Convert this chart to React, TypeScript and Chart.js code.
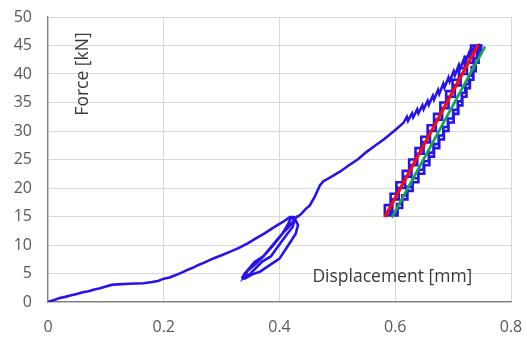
import React, { useEffect, useRef } from "react";
import { Chart, registerables } from "chart.js";

Chart.register(...registerables);

// Main loading curve (displacement mm, force kN)
const mainDisp = [
  0, 0.005, 0.012, 0.02, 0.03, 0.04, 0.05, 0.06, 0.07, 0.08, 0.09, 0.1, 0.11, 0.12, 0.14, 0.165, 0.18, 0.19,
  0.2, 0.21, 0.22, 0.23, 0.24, 0.25, 0.26, 0.27, 0.28, 0.29, 0.3, 0.314, 0.33, 0.345, 0.36, 0.375, 0.39,
  0.405, 0.418,
];
const mainForce = [
  0, 0.2, 0.4, 0.7, 0.9, 1.2, 1.4, 1.7, 1.9, 2.2, 2.4, 2.7, 3.0, 3.1, 3.2, 3.3, 3.5, 3.7,
  4.1, 4.3, 4.7, 5.1, 5.6, 6.0, 6.5, 6.9, 7.4, 7.8, 8.2, 8.8, 9.5, 10.3, 11.2, 12.1, 13.1,
  14.0, 14.9,
];
// Small unload/reload loop near 15 kN
const loopDisp = [
  0.425, 0.432, 0.428, 0.418, 0.4, 0.385, 0.366, 0.352, 0.34, 0.336, 0.34, 0.357, 0.372, 0.385, 0.395, 0.405,
  0.414, 0.42, 0.426, 0.423, 0.41, 0.397, 0.385, 0.37, 0.35, 0.338, 0.345, 0.358, 0.372, 0.388, 0.405, 0.418,
  0.43,
];
const loopForce = [
  14.9, 13.5, 12.0, 10.4, 7.6, 6.6, 5.3, 4.8, 4.1, 4.3, 5.0, 7.0, 8.0, 9.6, 10.8, 12.0,
  13.5, 14.8, 14.5, 13.2, 11.5, 9.7, 8.0, 7.1, 5.0, 4.2, 5.5, 6.6, 8.0, 9.8, 12.0, 13.4,
  15.0,
];
// Continued loading up to 45 kN
const upperDisp = [
  0.432, 0.438, 0.445, 0.452, 0.46, 0.465, 0.47, 0.476, 0.49, 0.505, 0.52, 0.535, 0.55, 0.565, 0.58, 0.597,
  0.614, 0.62, 0.622, 0.629, 0.631, 0.638, 0.64, 0.647, 0.649, 0.656, 0.658, 0.665, 0.667, 0.674, 0.676,
  0.683, 0.685, 0.692, 0.694, 0.701, 0.703, 0.71, 0.712, 0.719, 0.721, 0.728, 0.73, 0.737, 0.745,
];
const upperForce = [
  15.0, 15.5, 16.3, 16.9, 18.3, 19.4, 20.5, 21.2, 22.0, 22.9, 24.0, 25.0, 26.3, 27.4, 28.5, 29.9,
  31.4, 32.5, 31.8, 33.1, 32.4, 33.8, 33.1, 34.5, 33.8, 35.3, 34.6, 36.2, 35.5, 37.2, 36.5,
  38.3, 37.6, 39.4, 38.7, 40.5, 39.8, 41.6, 40.9, 42.7, 42.0, 43.8, 43.1, 44.8, 45.1,
];
// Cyclic loading between 15 and 45 kN: unload 1, reload 1, unload 2, reload 2
const u1Disp = [
  0.748, 0.744, 0.739, 0.735, 0.729, 0.723, 0.716, 0.709, 0.701, 0.692, 0.684, 0.676, 0.667, 0.659, 0.65,
  0.64, 0.63, 0.621, 0.612, 0.604, 0.596,
];
const u1Force = [
  45, 43.5, 42, 40.5, 39, 37.5, 36, 34.5, 33, 31.5, 30, 28.5, 27, 25.5, 24,
  22.5, 21, 19.5, 18, 16.5, 15.2,
];
const r1Disp = [
  0.582, 0.592, 0.602, 0.613, 0.624, 0.635, 0.645, 0.656, 0.667, 0.678, 0.688, 0.699, 0.71, 0.72, 0.731, 0.742,
];
const r1Force = [15.2, 17, 19, 21, 23, 25, 27, 29, 31, 33, 35, 37, 39, 41, 43, 45];
const u2Disp = [
  0.743, 0.741, 0.736, 0.732, 0.727, 0.721, 0.715, 0.708, 0.7, 0.691, 0.683, 0.675, 0.666, 0.658, 0.649,
  0.64, 0.63, 0.62, 0.612, 0.603, 0.594, 0.591,
];
const u2Force = [
  45, 44.2, 42.7, 41.2, 39.7, 38.2, 36.7, 35.2, 33.7, 32.2, 30.7, 29.2, 27.7, 26.2, 24.7,
  23.2, 21.7, 20.2, 18.7, 17.2, 15.7, 15.2,
];
const r2Disp = [
  0.591, 0.595, 0.606, 0.617, 0.628, 0.638, 0.649, 0.66, 0.67, 0.681, 0.692, 0.703, 0.713, 0.724, 0.735, 0.746,
  0.751,
];
const r2Force = [15.2, 16, 18, 20, 22, 24, 26, 28, 30, 32, 34, 36, 38, 40, 42, 44, 45];
// Fitted lines
const redDisp = [0.582, 0.743];
const redForce = [14.9, 45.1];
const greenDisp = [0.594, 0.755];
const greenForce = [14.8, 44.8];

const xTicks = [0, 0.2, 0.4, 0.6, 0.8];
const xTitle = "Displacement [mm]";
const yTitle = "Force [kN]";

const toPts = (xs: number[], ys: number[]) => xs.map((x, i) => ({ x, y: ys[i] }));

// staircase: unloading drops in force first, then moves left; loading rises first, then moves right
const stairs = (xs: number[], ys: number[]) => {
  const out: { x: number; y: number }[] = [];
  for (let i = 0; i < xs.length; i++) {
    if (i > 0) out.push({ x: xs[i - 1], y: ys[i] });
    out.push({ x: xs[i], y: ys[i] });
  }
  return out;
};

export default function App() {
  const ref = useRef<HTMLCanvasElement>(null);
  useEffect(() => {
    document.body.style.margin = "0";
    const canvas = ref.current!;
    const blue = [
      ...toPts(mainDisp, mainForce),
      ...toPts(loopDisp, loopForce),
      ...toPts(upperDisp, upperForce),
      ...stairs(u1Disp, u1Force),
      ...stairs(r1Disp, r1Force),
      ...stairs(u2Disp, u2Force),
      ...stairs(r2Disp, r2Force),
    ];
    const labelPlugin = {
      id: "labels",
      afterDatasetsDraw(chart: any) {
        const { ctx, scales } = chart;
        ctx.save();
        ctx.fillStyle = "#3a3a3a";
        ctx.font = '17.5px "Open Sans"';
        ctx.textAlign = "center";
        ctx.textBaseline = "middle";
        ctx.fillText(xTitle, scales.x.getPixelForValue(0.595), scales.y.getPixelForValue(4.4));
        ctx.translate(scales.x.getPixelForValue(0.061), scales.y.getPixelForValue(40));
        ctx.rotate(-Math.PI / 2);
        ctx.fillText(yTitle, 0, 0);
        ctx.restore();
      },
    };
    const chart = new Chart(canvas, {
      type: "scatter",
      data: {
        datasets: [
          {
            data: blue,
            showLine: true,
            borderColor: "rgb(38, 20, 232)",
            borderWidth: 2.6,
            pointRadius: 0,
            tension: 0,
            order: 3,
          },
          {
            data: toPts(greenDisp, greenForce),
            showLine: true,
            borderColor: "rgb(20, 165, 80)",
            borderWidth: 2.8,
            pointRadius: 0,
            order: 2,
          },
          {
            data: toPts(redDisp, redForce),
            showLine: true,
            borderColor: "rgb(250, 10, 10)",
            borderWidth: 3.2,
            pointRadius: 0,
            order: 1,
          },
        ],
      },
      options: {
        animation: false,
        responsive: false,
        layout: { padding: { top: 17, right: 16, left: 0, bottom: 0 } },
        plugins: { legend: { display: false }, tooltip: { enabled: false } },
        scales: {
          x: {
            type: "linear",
            min: 0,
            max: 0.8,
            afterBuildTicks: (s: any) => {
              s.ticks = xTicks.map((v) => ({ value: v }));
            },
            afterFit: (s: any) => {
              s.height = 35;
              s.paddingLeft = 0;
              s.paddingRight = 0;
            },
            grid: { color: "#d9d9d9", lineWidth: 1, drawTicks: false, tickLength: 0 },
            border: { color: "#808080", width: 1.2 },
            ticks: {
              padding: 16,
              color: "#595959",
              font: { family: "Open Sans", size: 16 },
              callback: (v: any) => String(v),
            },
          },
          y: {
            type: "linear",
            min: 0,
            max: 50,
            afterFit: (s: any) => {
              s.width = 48;
              s.paddingTop = 0;
              s.paddingBottom = 0;
            },
            grid: { color: "#d9d9d9", lineWidth: 1, drawTicks: false, tickLength: 0 },
            border: { color: "#808080", width: 1.2 },
            ticks: {
              stepSize: 5,
              padding: 16,
              color: "#595959",
              font: { family: "Open Sans", size: 16 },
            },
          },
        },
      },
      plugins: [labelPlugin],
    });
    return () => chart.destroy();
  }, []);
  return (
    <div style={{ width: 527, height: 337, background: "#fff" }}>
      <canvas ref={ref} width={527} height={337} />
    </div>
  );
}
